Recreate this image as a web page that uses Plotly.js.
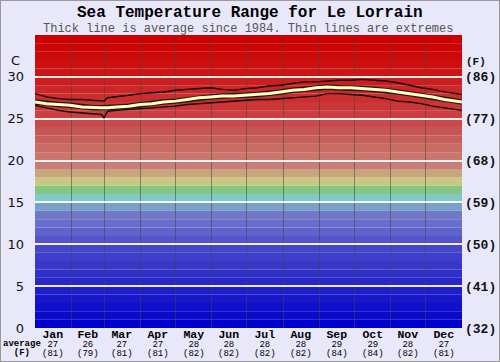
<!DOCTYPE html>
<html><head><meta charset="utf-8">
<script src="https://cdn.plot.ly/plotly-3.0.1.min.js"></script>
<style>
body{margin:0;background:#E8E8FA}
#frame{position:absolute;left:0;top:0;width:498px;height:360px;border:1px solid #9a9a9a;pointer-events:none}
</style>
</head><body>
<div id="chart" style="width:500px;height:362px"></div><div id="frame"></div>
<script>
// ---- data ----
const days = [0,10,20,30,40,50,57,59,62,70,80,90,100,110,120,130,140,150,160,170,180,190,200,210,220,230,240,250,260,270,280,290,300,310,320,330,340,350,365];
const maxTemp = [28.0,27.6,27.4,27.3,27.3,27.2,27.1,27.1,27.5,27.6,27.8,28.0,28.1,28.2,28.4,28.5,28.6,28.7,28.5,28.4,28.6,28.7,28.9,29.0,29.2,29.4,29.4,29.5,29.6,29.6,29.7,29.6,29.5,29.3,29.0,28.7,28.5,28.2,27.9];
const avgTemp = [27.0,26.8,26.7,26.6,26.4,26.3,26.3,26.3,26.3,26.4,26.5,26.7,26.8,27.0,27.1,27.3,27.5,27.6,27.7,27.7,27.8,27.9,28.0,28.2,28.4,28.5,28.7,28.8,28.7,28.7,28.6,28.5,28.4,28.2,28.0,27.8,27.6,27.3,27.0];
const minTemp = [26.6,26.3,26.0,25.8,25.7,25.6,25.5,25.1,25.9,26.0,26.1,26.2,26.3,26.4,26.5,26.7,26.8,26.9,27.0,27.1,27.2,27.3,27.3,27.4,27.5,27.6,27.7,28.0,28.0,27.9,27.8,27.6,27.4,27.1,27.0,26.8,26.5,26.3,26.0];

const months = ['Jan','Feb','Mar','Apr','May','Jun','Jul','Aug','Sep','Oct','Nov','Dec'];
const monthStarts = [0,31,59,90,120,151,181,212,243,273,304,334,365];
const monthAvgC = [27,26,27,27,28,28,28,28,29,29,28,27];
const monthAvgF = [81,79,81,81,82,82,82,82,84,84,82,81];

const cTicks = [0,5,10,15,20,25,30];
const fTickText = ['(32)','(41)','(50)','(59)','(68)','(77)','(86)'];

// colour of each 1 degree band, from 0-1 C upward
const bandColors = [
 'rgb(0,0,204)','rgb(10,10,204)','rgb(16,16,204)','rgb(22,22,202)','rgb(30,30,200)',
 'rgb(40,40,200)','rgb(48,48,200)','rgb(55,55,200)','rgb(62,62,200)','rgb(70,70,200)',
 'rgb(85,85,200)','rgb(95,100,205)','rgb(105,110,205)','rgb(112,120,200)','rgb(120,160,200)',
 'rgb(130,200,200)','rgb(130,200,130)','rgb(200,200,130)','rgb(200,165,125)','rgb(200,125,120)',
 'rgb(200,118,110)','rgb(200,108,100)','rgb(200,96,90)','rgb(200,85,85)','rgb(200,75,75)',
 'rgb(204,62,62)','rgb(204,54,54)','rgb(204,46,46)','rgb(204,38,38)','rgb(204,30,30)',
 'rgb(204,22,22)','rgb(204,15,15)','rgb(204,10,10)','rgb(204,5,5)','rgb(204,0,0)'
];

// ---- build ----
const mono = 'Liberation Mono, Courier New, monospace';
const shapes = bandColors.map((c,i)=>({type:'rect',xref:'paper',yref:'y',x0:0,x1:1,y0:i,y1:i+1,fillcolor:c,line:{width:0},layer:'below'}));

const mids = months.map((m,i)=>(monthStarts[i]+monthStarts[i+1])/2);
const annotations = [];
months.forEach((m,i)=>{
  annotations.push({xref:'x',yref:'paper',x:mids[i],y:0.002,xanchor:'center',yanchor:'top',showarrow:false,borderpad:0,
    text:'<b><span style="font-size:11.5px">'+m+'</span></b><br><span style="font-size:9px">'+monthAvgC[i]+'</span><br><span style="font-size:9px">('+monthAvgF[i]+')</span>',
    font:{family:mono,size:7.1,color:'#000'}});
});
annotations.push({xref:'paper',yref:'paper',x:-0.031,y:-0.034,xanchor:'center',yanchor:'top',showarrow:false,borderpad:0,
  text:'<b><span style="font-size:9px">average</span></b><br><b><span style="font-size:9px">(F)</span></b>',font:{family:mono,size:7.2,color:'#000'}});
annotations.push({xref:'paper',yref:'y',x:-0.031,y:32,text:'C',showarrow:false,xanchor:'right',yanchor:'middle',font:{family:'DejaVu Sans',size:13,color:'#111'}});
annotations.push({xref:'paper',yref:'y',x:1.005,y:31.8,text:'(F)',showarrow:false,xanchor:'left',yanchor:'middle',font:{family:mono,size:11,weight:'bold',color:'#111'}});
annotations.push({xref:'paper',yref:'paper',x:0.503,y:1.075,text:'Sea Temperature Range for Le Lorrain',showarrow:false,xanchor:'center',yanchor:'middle',font:{family:mono,size:16,weight:'bold',color:'#000'}});
annotations.push({xref:'paper',yref:'paper',x:0.498,y:1.022,text:'Thick line is average since 1984. Thin lines are extremes',showarrow:false,xanchor:'center',yanchor:'middle',font:{family:mono,size:12,color:'#555'}});

const traces = [
  {x:days,y:maxTemp,mode:'lines',line:{color:'rgba(0,0,0,0.9)',width:1.4},hoverinfo:'skip'},
  {x:days,y:minTemp,mode:'lines',line:{color:'rgba(0,0,0,0.9)',width:1.4},hoverinfo:'skip'},
  {x:days,y:avgTemp,mode:'lines',line:{color:'rgba(20,20,20,0.9)',width:5.5},hoverinfo:'skip'},
  {x:days,y:avgTemp,mode:'lines',line:{color:'#FFFFC0',width:3},hoverinfo:'skip'},
  {x:days,y:avgTemp,yaxis:'y2',mode:'lines',line:{color:'rgba(0,0,0,0)',width:0},hoverinfo:'skip'}
];

const layout = {
  width:500,height:362,
  margin:{l:35,r:38,t:35,b:34},
  paper_bgcolor:'#E8E8FA',plot_bgcolor:'#E8E8FA',
  showlegend:false,
  shapes:shapes,
  annotations:annotations,
  xaxis:{range:[0,365],tickvals:monthStarts.slice(1,12),showticklabels:false,ticks:'',showgrid:true,gridcolor:'rgba(70,70,70,0.55)',gridwidth:1,zeroline:false,fixedrange:true},
  yaxis:{range:[0,35],tickvals:cTicks,ticktext:cTicks.map(String),ticks:'',ticklabelstandoff:10,showgrid:true,gridcolor:'rgba(255,255,255,0.9)',gridwidth:2,zeroline:false,tickfont:{family:'DejaVu Sans',size:13,color:'#111'}},
  yaxis2:{range:[0,35],overlaying:'y',side:'right',tickvals:cTicks,ticktext:fTickText,ticks:'',ticklabelstandoff:2,showgrid:false,zeroline:false,tickfont:{family:mono,size:13,weight:'bold',color:'#111'}}
};
Plotly.newPlot('chart',traces,layout,{displayModeBar:false,staticPlot:true});
</script>
</body></html>
